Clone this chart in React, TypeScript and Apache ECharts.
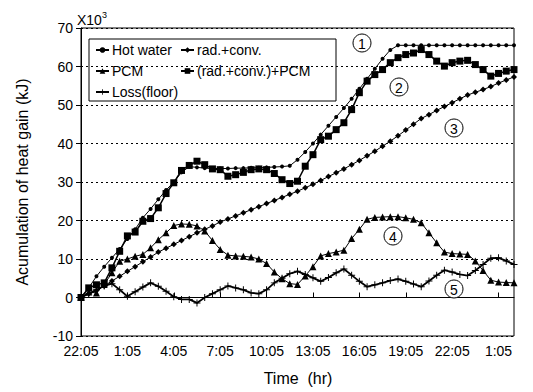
import React, { useEffect, useRef } from "react";
import * as echarts from "echarts";

const TIMES = [
  "22:05","22:35","23:05","23:35","0:05","0:35","1:05","1:35","2:05","2:35",
  "3:05","3:35","4:05","4:35","5:05","5:35","6:05","6:35","7:05","7:35",
  "8:05","8:35","9:05","9:35","10:05","10:35","11:05","11:35","12:05","12:35",
  "13:05","13:35","14:05","14:35","15:05","15:35","16:05","16:35","17:05","17:35",
  "18:05","18:35","19:05","19:35","20:05","20:35","21:05","21:35","22:05","22:35",
  "23:05","23:35","0:05","0:35","1:05","1:35","2:05",
];

const HOT_WATER = [
  0, 2.5, 5.5, 8, 10.3, 12.6, 15.2, 17.7, 20.7, 23,
  25.5, 27.9, 30, 32.5, 34, 33.8, 33.6, 33.5, 33.5, 33.5,
  33.6, 33.6, 33.7, 33.7, 33.8, 33.9, 34, 34.2, 35.8, 37.8,
  40, 42.3, 44.6, 46.9, 49.2, 51.6, 54.2, 56.8, 59.4, 62,
  64.3, 65.5, 65.5, 65.5, 65.5, 65.5, 65.5, 65.5, 65.5, 65.5,
  65.5, 65.5, 65.5, 65.5, 65.5, 65.5, 65.5,
];

const RAD_CONV = [
  0, 1, 1.8, 3, 4.3, 5.5, 6.8, 8, 9.3, 10.5,
  11.8, 12.8, 13.8, 14.8, 15.8, 16.8, 17.7, 18.6, 19.6, 20.4,
  21.2, 22, 22.8, 23.6, 24.4, 25.2, 26, 26.8, 27.6, 28.5,
  29.4, 30.4, 31.4, 32.4, 33.4, 34.5, 35.6, 36.8, 38, 39.3,
  40.6, 42, 43.5, 45, 46.5, 47.5, 48.6, 49.6, 50.6, 51.6,
  52.6, 53.3, 54, 54.8, 55.7, 56.5, 57.3,
];

const PCM = [
  0, 1.4, 1.2, 3.4, 6.4, 9.4, 10, 10.7, 11.2, 12.9,
  15, 16.8, 18.7, 19.1, 19, 18.6, 17.3, 14.8, 12.5, 11,
  10.8, 10.7, 10.5, 10, 8.8, 6.6, 4.9, 3.6, 3.4, 5.6,
  8, 10.8, 11.4, 11.8, 12.3, 15.3, 17.7, 20.3, 20.8, 20.9,
  21, 21, 20.7, 20.3, 19.4, 16.8, 14.2, 11.8, 11.4, 11.3,
  11.2, 9.5, 7, 4.5, 4, 3.9, 3.8,
];

const RAD_CONV_PCM = [
  0, 2.5, 3.3, 3.8, 7.7, 12, 16, 17, 19.8, 20.5,
  23.3, 27, 29.8, 33, 34.3, 35.4, 34.5, 33.4, 33.2, 31.5,
  31.9, 32.5, 33.2, 33.4, 33.2, 32.2, 30.6, 29.6, 30.2, 34.1,
  37.1, 41, 41.9, 43.6, 45.4, 48.8, 53.2, 56.2, 57.9, 59.2,
  61, 62.3, 63.1, 63.5, 64.4, 63.1, 61.4, 60.1, 61, 61.4,
  61.6, 60.5, 59.2, 57.5, 58.2, 58.8, 59.2,
];

const LOSS_FLOOR = [
  0, 1, 2, 3, 3.6, 2, 0.3, 1.5, 2.7, 3.8,
  2.9, 1.6, 0.2, -0.5, -0.5, -1.4, 0, 1, 2, 3,
  2.5, 2, 1.2, 1, 2, 3.8, 5, 6.2, 6.8, 6,
  5.1, 4.2, 5.2, 6.4, 7.4, 5.8, 4.2, 2.8, 3.3, 3.8,
  4.4, 4.8, 4.2, 3.5, 2.8, 4.3, 5.8, 7.1, 6.6, 6,
  5.7, 7, 8.6, 10.2, 10.3, 9.5, 8.6,
];

const Y_TICKS = { min: -10, max: 70, interval: 10 };
const CURVE_LABELS = ["1", "2", "3", "4", "5"];

const FONT = "'Liberation Sans', Arial, Helvetica, sans-serif";
const PLUS = "path://M-0.14,-1h0.28v0.86h0.86v0.28h-0.86v0.86h-0.28v-0.86h-0.86v-0.28h0.86z";

export default function App() {
  const ref = useRef<HTMLDivElement>(null);
  useEffect(() => {
    if (!ref.current) return;
    const chart = echarts.init(ref.current, undefined, { renderer: "svg" });
    const line = (name: string, data: number[], symbol: string, size: number, width: number, extra: any = {}) => ({
      name,
      type: "line",
      data,
      symbol,
      symbolSize: size,
      showSymbol: true,
      showAllSymbol: true,
      lineStyle: { color: "#000", width },
      itemStyle: { color: "#000", borderColor: "#000", borderWidth: 0 },
      emphasis: { disabled: true },
      ...extra,
    });
    const circlePos = [
      [362, 43],
      [399, 87],
      [454, 128],
      [393, 236],
      [454, 289],
    ];
    const circles: any[] = [];
    circlePos.forEach((p, i) => {
      circles.push({
        type: "circle",
        shape: { cx: p[0], cy: p[1], r: 9 },
        style: { fill: "#fff", stroke: "#000", lineWidth: 1 },
        z: 10,
      });
      circles.push({
        type: "text",
        x: p[0],
        y: p[1] + 1,
        style: { text: CURVE_LABELS[i], font: `14px ${FONT}`, fill: "#000", align: "center", verticalAlign: "middle" },
        z: 11,
      });
    });
    chart.setOption({
      animation: false,
      backgroundColor: "#fff",
      textStyle: { fontFamily: FONT, color: "#000" },
      grid: { left: 81, right: 19, top: 28, bottom: 56, show: true, borderColor: "#000", borderWidth: 1, backgroundColor: "transparent" },
      legend: [
        {
          data: ["Hot water", "PCM", "Loss(floor)"],
          orient: "vertical",
          left: 95,
          top: 43,
          itemGap: 7,
          itemWidth: 13,
          itemHeight: 7,
          padding: 0,
          textStyle: { fontSize: 14, fontFamily: FONT, color: "#000", padding: [0, 0, 0, -2] },
        },
        {
          data: ["rad.+conv.", "(rad.+conv.)+PCM"],
          orient: "vertical",
          left: 180,
          top: 43,
          itemGap: 7,
          itemWidth: 13,
          itemHeight: 7,
          padding: 0,
          textStyle: { fontSize: 14, fontFamily: FONT, color: "#000", padding: [0, 0, 0, -2] },
        },
      ],
      xAxis: {
        type: "category",
        data: TIMES,
        boundaryGap: false,
        axisLine: { lineStyle: { color: "#000", width: 1 } },
        axisTick: { inside: true, length: 5, interval: 5, lineStyle: { color: "#000" } },
        axisLabel: { interval: 5, fontSize: 14, color: "#000", fontFamily: FONT, margin: 8 },
        splitLine: { show: false },
      },
      yAxis: {
        type: "value",
        min: Y_TICKS.min,
        max: Y_TICKS.max,
        interval: Y_TICKS.interval,
        axisLine: { show: true, lineStyle: { color: "#000", width: 1 } },
        axisTick: { show: true, length: 5, lineStyle: { color: "#000" } },
        axisLabel: { fontSize: 14, color: "#000", fontFamily: FONT, margin: 8 },
        splitLine: {
          show: true,
          lineStyle: { color: "#000", type: [2, 3], width: 1 },
        },
      },
      series: [
        line("Hot water", HOT_WATER, "circle", 4, 1),
        line("rad.+conv.", RAD_CONV, "diamond", 6, 1),
        line("PCM", PCM, "triangle", 7, 1),
        line("(rad.+conv.)+PCM", RAD_CONV_PCM, "rect", 7, 1.5),
        line("Loss(floor)", LOSS_FLOOR, PLUS, 7, 1.8, {
          markLine: {
            silent: true,
            symbol: "none",
            label: { show: false },
            lineStyle: { color: "#000", type: "solid", width: 1 },
            data: [{ yAxis: 0 }],
          },
        }),
      ],
      graphic: [
        {
          type: "rect",
          shape: { x: 89, y: 39, width: 247, height: 62 },
          style: { fill: "#fff", stroke: "#000", lineWidth: 1 },
          z: -1,
          zlevel: 0,
        },
        {
          type: "text",
          x: 77,
          y: 10,
          style: {
            text: "{a|X10}{b|3}",
            rich: {
              a: { font: `14px ${FONT}`, fill: "#000", verticalAlign: "bottom" },
              b: { font: `9px ${FONT}`, fill: "#000", verticalAlign: "top", padding: [0, 0, 8, 0] },
            },
          },
        },
        {
          type: "text",
          x: 22,
          y: 182,
          rotation: Math.PI / 2,
          style: { text: "Acumulation of heat gain (kJ)", font: `16px ${FONT}`, fill: "#000", align: "center", verticalAlign: "middle" },
        },
        {
          type: "text",
          x: 298,
          y: 378,
          style: { text: "Time  (hr)", font: `16px ${FONT}`, fill: "#000", align: "center", verticalAlign: "middle" },
        },
        ...circles,
      ],
    });
    return () => chart.dispose();
  }, []);
  return <div ref={ref} style={{ position: "fixed", left: 0, top: 0, width: 533, height: 392 }} />;
}
